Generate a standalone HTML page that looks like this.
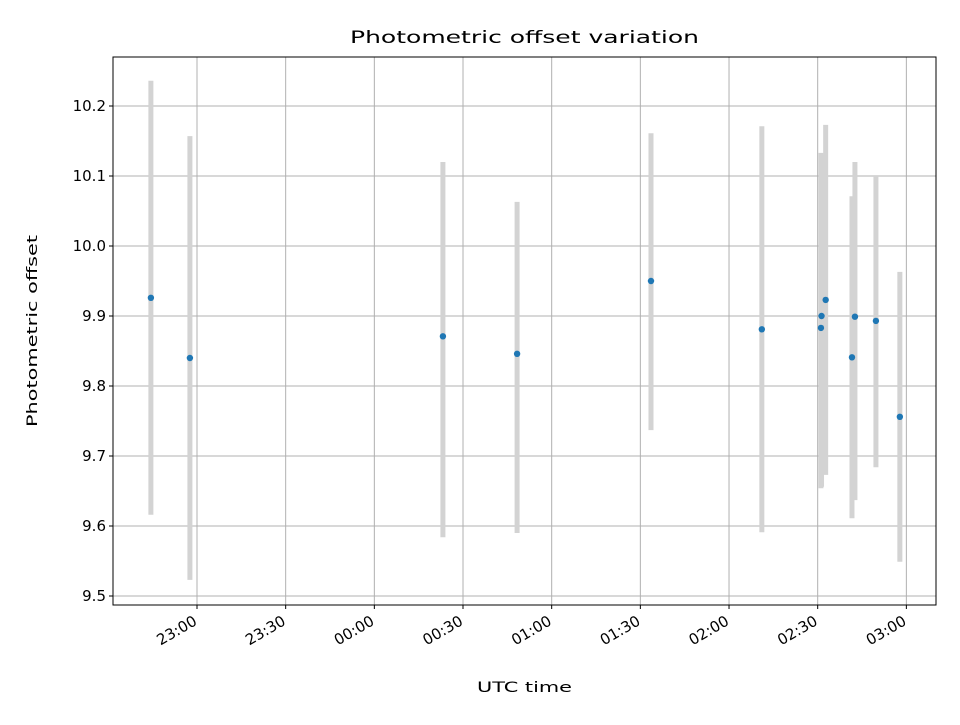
<!DOCTYPE html>
<html><head><meta charset="utf-8"><style>
body{margin:0;background:#fff}
svg text{font-family:"DejaVu Sans","Liberation Sans",sans-serif}
</style></head><body>
<svg id="chart" width="960" height="720" xmlns="http://www.w3.org/2000/svg">
<rect width="960" height="720" fill="#fff"/>
<g id="grid"></g><g id="bars"></g><g id="pts"></g><g id="axes"></g>
<text x="350" y="43" font-size="16.8" textLength="349" lengthAdjust="spacingAndGlyphs">Photometric offset variation</text>
<text x="477" y="692" font-size="14" textLength="95" lengthAdjust="spacingAndGlyphs">UTC time</text>
<text transform="translate(37,427) rotate(-90)" font-size="14" textLength="192" lengthAdjust="spacingAndGlyphs">Photometric offset</text>
</svg>
<script>
// minutes relative to 23:00 UTC
const times=[-15.6,-2.4,83.2,108.3,153.6,191.1,211.1,211.3,212.7,221.6,222.6,229.7,237.8];
const values=[9.926,9.840,9.871,9.846,9.950,9.881,9.883,9.900,9.923,9.841,9.899,9.893,9.756];
const lows=[9.616,9.523,9.584,9.590,9.737,9.591,9.654,9.656,9.673,9.611,9.637,9.684,9.549];
const highs=[10.236,10.157,10.120,10.063,10.161,10.171,10.133,10.13,10.173,10.071,10.120,10.100,9.963];
const yTicks=[9.5,9.6,9.7,9.8,9.9,10.0,10.1,10.2];
const xTickMins=[0,30,60,90,120,150,180,210,240];
const xTickLabels=["23:00","23:30","00:00","00:30","01:00","01:30","02:00","02:30","03:00"];
const L=113,R=936,T=57,B=605;
const xs=m=>197+m*(88.67/30);
const ys=v=>596-(v-9.5)*700;
const NS="http://www.w3.org/2000/svg";
function mk(tag,parent,attrs){const e=document.createElementNS(NS,tag);for(const k in attrs)e.setAttribute(k,attrs[k]);document.getElementById(parent).appendChild(e);return e;}
yTicks.forEach(v=>{const y=ys(v);
 const g=mk('line','grid',{x1:L,x2:R,y1:y,y2:y,stroke:'#b0b0b0','stroke-width':1});
 
 
 mk('line','axes',{x1:L-4,x2:L,y1:y,y2:y,stroke:'#000'});
 const t=mk('text','axes',{x:L-7,y:y+5,'font-size':15,'text-anchor':'end'});t.textContent=v.toFixed(1);
 
 
});
xTickMins.forEach((m,i)=>{const x=xs(m);
 const g=mk('line','grid',{x1:x,x2:x,y1:T,y2:B,stroke:'#b0b0b0','stroke-width':1});
 
 
 mk('line','axes',{x1:x,x2:x,y1:B,y2:B+4,stroke:'#000'});
 const t=mk('text','axes',{x:x+1,y:B+19,'font-size':15,'text-anchor':'end',transform:`rotate(-30 ${x+1} ${B+19})`});t.textContent=xTickLabels[i];
 
 
});
times.forEach((m,i)=>{const x=xs(m);
 const b=mk('line','bars',{x1:x,x2:x,y1:ys(highs[i]),y2:ys(lows[i]),stroke:'#d3d3d3','stroke-width':5});
 
 
 const c=mk('circle','pts',{cx:x,cy:ys(values[i]),r:3.2,fill:'#1f77b4'});
 
 
});
const f=mk('rect','axes',{x:L,y:T,width:R-L,height:B-T,fill:'none',stroke:'#000','stroke-width':1});


</script>
</body></html>
